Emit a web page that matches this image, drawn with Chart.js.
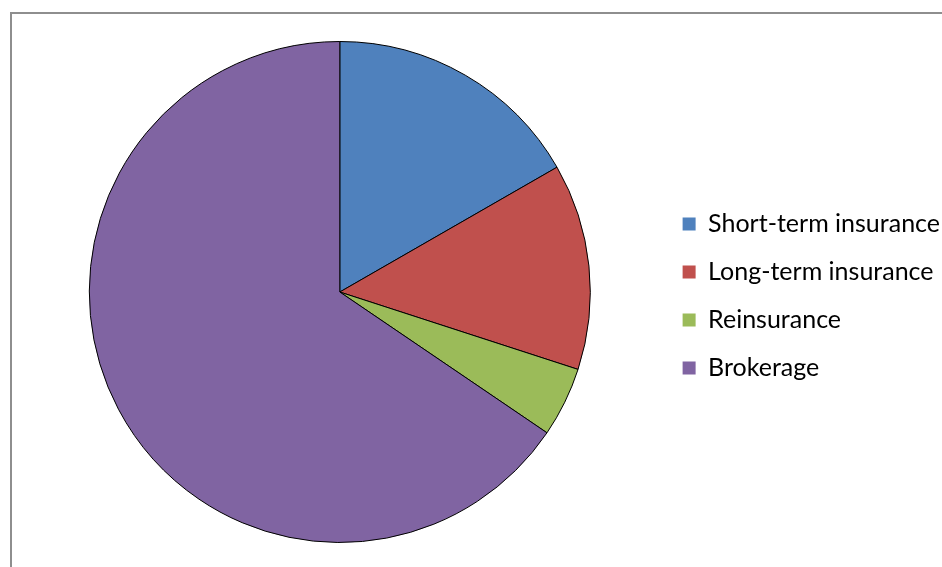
<!DOCTYPE html>
<html>
<head>
<meta charset="utf-8">
<script src="https://cdn.jsdelivr.net/npm/chart.js@4/dist/chart.umd.min.js"></script>
<style>
  html, body { margin: 0; padding: 0; background: #fff; overflow: hidden; }
  #frame {
    position: absolute; left: 10px; top: 12px;
    width: 960px; height: 600px;
    border: 2px solid #8e8e8e; box-sizing: border-box;
  }
  #wrap { position: absolute; left: 0; top: 0; width: 950px; height: 567px; }
</style>
</head>
<body>
<div id="frame"></div>
<div id="wrap"><canvas id="pie"></canvas></div>
<script>
const segments = ['Short-term insurance', 'Long-term insurance', 'Reinsurance', 'Brokerage']
const shares = [16.7, 13.3, 4.5, 65.5]
const colours = ['#4F81BD', '#C0504D', '#9BBB59', '#8064A2']

const baseLabels = Chart.overrides.pie.plugins.legend.labels.generateLabels

new Chart(document.getElementById('pie'), {
  type: 'pie',
  data: {
    labels: segments,
    datasets: [{
      data: shares,
      backgroundColor: colours,
      borderColor: '#000',
      borderWidth: 1,
    }],
  },
  options: {
    responsive: true,
    maintainAspectRatio: false,
    animation: false,
    layout: { padding: { top: 41, bottom: 24, left: 20, right: 0 } },
    plugins: {
      tooltip: { enabled: false },
      legend: {
        position: 'right',
        // empty title only nudges the entries down a little
        title: { display: true, text: '', font: { size: 8, lineHeight: 1 }, padding: 0 },
        labels: {
          color: '#000',
          font: { family: 'Lato', size: 25 },
          boxWidth: 13,
          boxHeight: 13,
          padding: 23,
          generateLabels(chart) {
            return baseLabels(chart).map(l => ({ ...l, lineWidth: 0, strokeStyle: l.fillStyle }))
          },
        },
      },
    },
  },
})
</script>
</body>
</html>
